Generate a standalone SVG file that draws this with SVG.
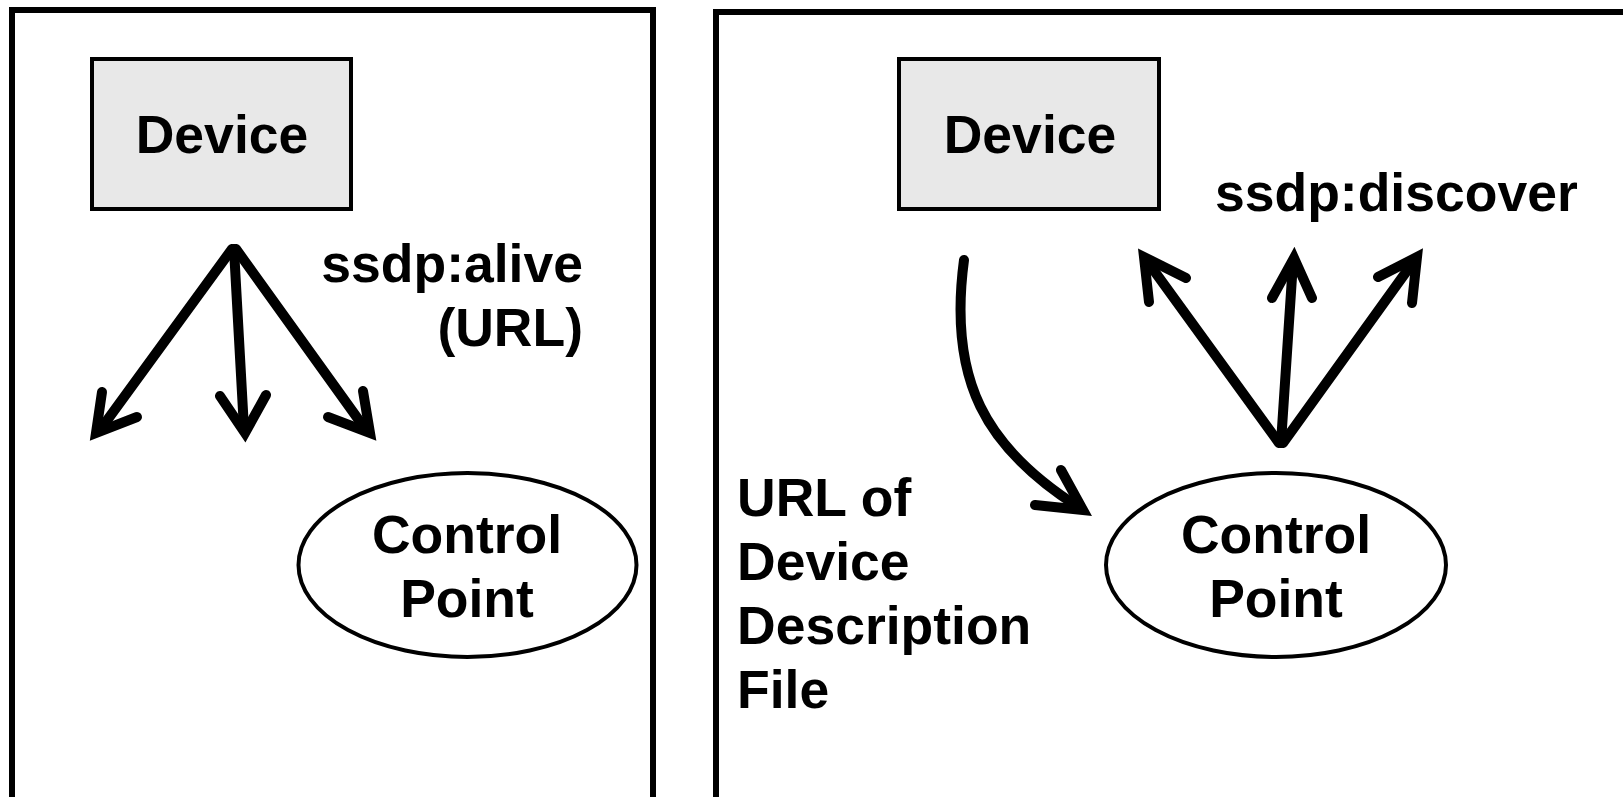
<svg xmlns="http://www.w3.org/2000/svg" width="1623" height="797" viewBox="0 0 1623 797">
<style>
.panel{fill:none;stroke:#000;stroke-width:6}
.dev{fill:#e8e8e8;stroke:#000;stroke-width:4}
.cp{fill:#fff;stroke:#000;stroke-width:4}
.t{font-family:"Liberation Sans",Arial,sans-serif;font-weight:bold;font-size:53.5px;fill:#000}
.c{text-anchor:middle}
.e{text-anchor:end}
.ln{fill:none;stroke:#000;stroke-width:10;stroke-linecap:round}
.hd{fill:none;stroke:#000;stroke-width:10;stroke-linecap:round;stroke-linejoin:miter;stroke-miterlimit:10}
</style>
<rect width="1623" height="797" fill="#fff"/>
<g id="panel-left"><rect class="panel" x="12" y="10" width="641" height="820"/></g>
<g id="panel-right"><rect class="panel" x="716" y="12" width="940" height="820"/></g>
<g id="device-left">
<rect class="dev" x="92" y="59" width="259" height="150"/>
<text class="t c" x="222" y="153">Device</text>
</g>
<g id="cp-left">
<ellipse class="cp" cx="467.5" cy="565" rx="169" ry="92"/>
<text class="t c" x="467" y="553">Control</text>
<text class="t c" x="467" y="617">Point</text>
</g>
<g id="device-right">
<rect class="dev" x="899" y="59" width="260" height="150"/>
<text class="t c" x="1030" y="153">Device</text>
</g>
<g id="cp-right">
<ellipse class="cp" cx="1276" cy="565" rx="170" ry="92"/>
<text class="t c" x="1276" y="553">Control</text>
<text class="t c" x="1276" y="617">Point</text>
</g>
<g id="labels">
<text class="t e" x="583" y="282">ssdp:alive</text>
<text class="t e" x="583" y="346">(URL)</text>
<text class="t" x="1215" y="211">ssdp:discover</text>
<text class="t" x="737" y="516">URL of</text>
<text class="t" x="737" y="580">Device</text>
<text class="t" x="737" y="644">Description</text>
<text class="t" x="737" y="708">File</text>
</g>
<g id="connectors">
<line class="ln" x1="232" y1="249" x2="100" y2="430"/>
<polyline class="hd" points="102,392 96,433 137,417"/>
<line class="ln" x1="234" y1="249" x2="244" y2="429"/>
<polyline class="hd" points="220,396 245,433 266,395"/>
<line class="ln" x1="236" y1="249" x2="366" y2="430"/>
<polyline class="hd" points="363,391 370,433 328,417"/>
<path class="ln" d="M964,260 C948,380 985,448 1080,508"/>
<polyline class="hd" points="1061,470 1083,510 1035,505"/>
<line class="ln" x1="1279" y1="443" x2="1147" y2="261"/>
<polyline class="hd" points="1149,302 1144,257 1186,278"/>
<line class="ln" x1="1281" y1="443" x2="1293" y2="262"/>
<polyline class="hd" points="1272,298 1294,258 1312,298"/>
<line class="ln" x1="1283" y1="443" x2="1414" y2="261"/>
<polyline class="hd" points="1412,303 1417,257 1378,277"/>
</g>
</svg>
